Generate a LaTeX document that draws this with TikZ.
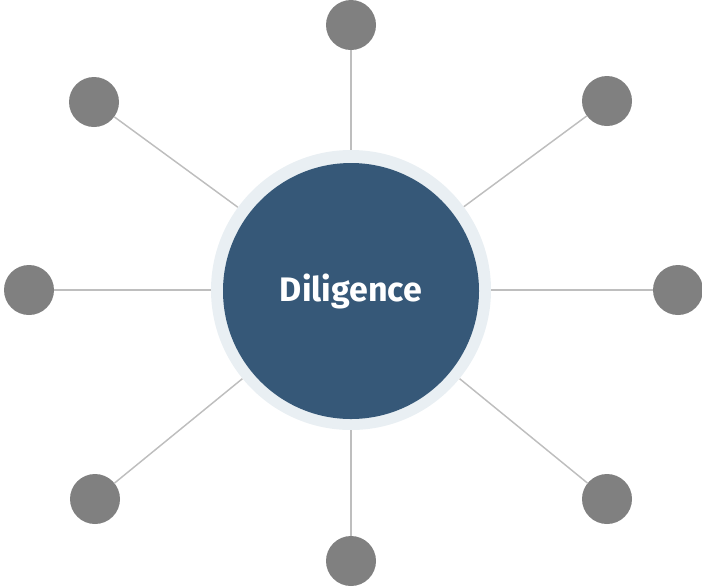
\documentclass[tikz,border=0pt]{standalone}
\usepackage{fontspec}
\setmainfont{Fira Sans}
\definecolor{hubblue}{RGB}{54,88,120}
\definecolor{hubring}{RGB}{233,239,243}
\definecolor{dotgrey}{RGB}{128,128,128}
\definecolor{spokegrey}{RGB}{190,190,190}
\tikzset{
  dot/.style={circle, fill=dotgrey, inner sep=0pt, minimum size=37.5pt},
  spoke/.style={draw=spokegrey, line width=1.1pt}
}
\begin{document}
\begin{tikzpicture}[x=0.75pt,y=0.75pt,yscale=-1,xscale=1]
\useasboundingbox (0,0) rectangle (702,587);

% centre
\node [circle, fill=hubring, inner sep=0pt, minimum size=210pt] (ring) at (351,290) {};
\node [circle, fill=hubblue, inner sep=0pt, minimum size=192pt, text=white, font=\bfseries\fontsize{25.5}{28}\selectfont] (hub) at (351,291) {Diligence};

% outer dots
\node [dot] (n) at (351,25) {};
\node [dot] (ne) at (607,101) {};
\node [dot] (e) at (678,290) {};
\node [dot] (se) at (607,499) {};
\node [dot] (s) at (351,561) {};
\node [dot] (sw) at (95,499) {};
\node [dot] (w) at (29,290) {};
\node [dot] (nw) at (94,102) {};

% spokes
\draw [spoke] (n) -- (ring);
\draw [spoke] (ne) -- (ring);
\draw [spoke] (e) -- (ring);
\draw [spoke] (se) -- (ring);
\draw [spoke] (s) -- (ring);
\draw [spoke] (sw) -- (ring);
\draw [spoke] (w) -- (ring);
\draw [spoke] (nw) -- (ring);

\end{tikzpicture}
\end{document}
